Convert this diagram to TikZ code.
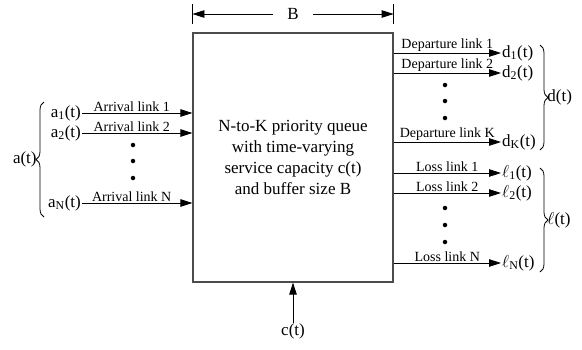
\documentclass[tikz,border=0pt]{standalone}
\usepackage{fontspec}
\setmainfont{Liberation Serif}
\usetikzlibrary{positioning, arrows.meta, decorations.pathreplacing}

\begin{document}
\begin{tikzpicture}[x=1pt, y=-1pt,
  queue/.style={draw=black!70, line width=1.2pt, minimum width=200pt, minimum height=249pt, align=center, font=\fontsize{17}{21}\selectfont},
  link/.style={line width=0.8pt, -{Triangle[length=12pt, width=7.5pt]}},
  lab/.style={font=\fontsize{14}{15}\selectfont, inner sep=1pt},
  sig/.style={font=\fontsize{17}{18}\selectfont, inner sep=1pt},
  dot/.style={circle, fill, inner sep=0pt, minimum size=4.5pt},
  brc/.style={decorate, decoration={brace, amplitude=8pt}, line width=0.8pt}]
\useasboundingbox (0,0) rectangle (582,349);

\node[queue] (queue) at (293,157.5) {N-to-K priority queue\\with time-varying\\service capacity c(t)\\and buffer size B};

% buffer size B
\node[sig, minimum width=40pt] (B) at (293,14) {B};
\coordinate (bl) at (queue.west |- B);
\coordinate (br) at (queue.east |- B);
\draw (bl) ++(0,-10) -- ++(0,20);
\draw (br) ++(0,-10) -- ++(0,20);
\draw[link] (B) -- (bl);
\draw[link] (B) -- (br);

% service capacity
\node[sig, below=40pt of queue.south] (ct) {c(t)};
\draw[link] (ct) -- (queue);

% arrivals
\foreach \n/\t/\y in {a1/1/113, a2/2/133, aN/N/203} {
  \node[sig, anchor=east] (\n) at (82,\y) {a\textsubscript{\t}(t)};
  \draw[link] (\n) -- (queue.west |- \n) node[lab, pos=0.45, above] {Arrival link \t};
}
\foreach \y [count=\i] in {145,161,178}
  \node[dot] (adot\i) at (133,\y) {};
\draw[brc] (44,217) -- (44,102) node[sig, midway, left=6pt] (at) {a(t)};

% departures
\foreach \n/\t/\y in {d1/1/53, d2/2/73, dK/K/142} {
  \node[sig, anchor=west] (\n) at (501,\y) {d\textsubscript{\t}(t)};
  \draw[link] (queue.east |- \n) -- (\n) node[lab, midway, above] {Departure link \t};
}
\foreach \y [count=\i] in {85,101,118}
  \node[dot] (ddot\i) at (445,\y) {};
\draw[brc] (540,45) -- (540,150) node[sig, midway, right=6pt] (dt) {d(t)};

% losses
\foreach \n/\t/\y in {l1/1/173, l2/2/193, lN/N/263} {
  \node[sig, anchor=west] (\n) at (501,\y) {$\ell$\textsubscript{\t}(t)};
  \draw[link] (queue.east |- \n) -- (\n) node[lab, midway, above] {Loss link \t};
}
\foreach \y [count=\i] in {208,225,242}
  \node[dot] (ldot\i) at (445,\y) {};
\draw[brc] (540,168) -- (540,272) node[sig, midway, right=6pt] (lt) {$\ell$(t)};

\end{tikzpicture}
\end{document}
